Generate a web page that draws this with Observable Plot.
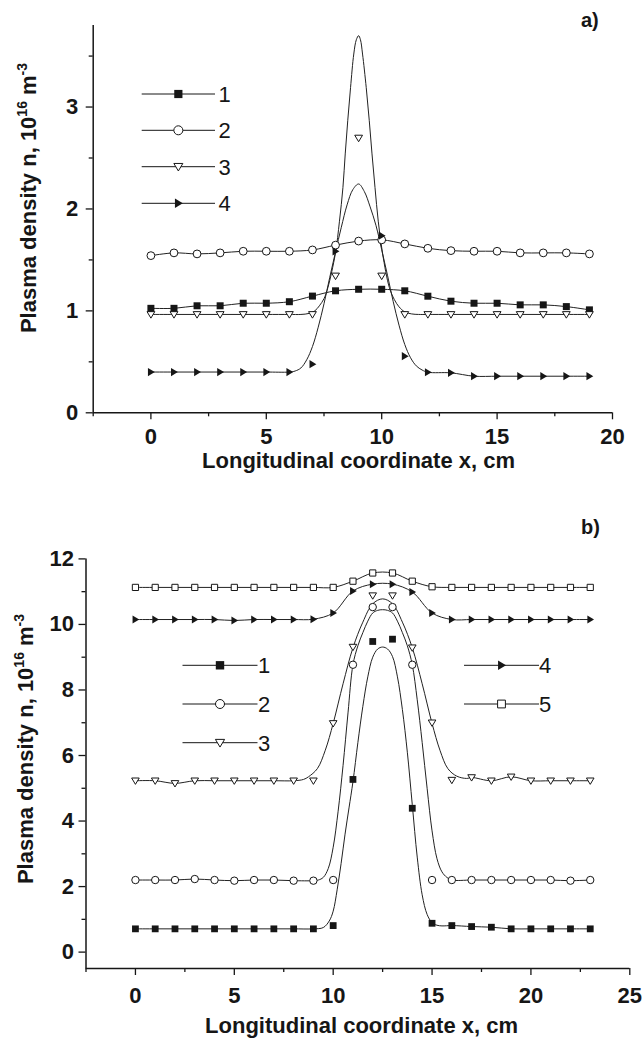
<!DOCTYPE html>
<html><head><meta charset="utf-8">
<script src="https://cdn.jsdelivr.net/npm/d3@7"></script>
<script src="https://cdn.jsdelivr.net/npm/@observablehq/plot@0.6"></script>
<style>
body{margin:0;background:#fff;}
#wrap{position:relative;width:644px;height:1038px;overflow:hidden;background:#fff;}
#pa{position:absolute;left:0;top:0;}
#pb{position:absolute;left:0;top:480px;}
</style></head><body><div id="wrap"><div id="pa"></div><div id="pb"></div></div>
<script>
// ---------- Panel a) data ----------
const xsA = [0,1,2,3,4,5,6,7,8,9,10,11,12,13,14,15,16,17,18,19];
const a1 = [1.025,1.025,1.05,1.05,1.075,1.075,1.09,1.145,1.197,1.212,1.212,1.197,1.144,1.095,1.075,1.075,1.059,1.059,1.042,1.01];
const a2 = [1.542,1.569,1.559,1.569,1.585,1.585,1.585,1.598,1.645,1.685,1.697,1.657,1.614,1.591,1.585,1.585,1.569,1.569,1.569,1.559];
const a3 = [0.965,0.965,0.965,0.965,0.965,0.965,0.965,0.965,1.343,2.696,1.343,0.965,0.965,0.965,0.965,0.965,0.965,0.965,0.965,0.965];
const a4 = [0.40,0.40,0.40,0.40,0.40,0.40,0.40,0.477,1.584,null,1.738,0.556,0.398,0.392,0.359,0.359,0.359,0.359,0.359,0.359];
// fitted curves read off panel a)
const tallX = [6.5,6.85,7.1,7.3,7.5,7.67,7.99,8.17,8.32,8.42,8.53,8.65,8.79,8.9,9.0,9.08,9.17,9.33,9.46,9.58,9.71,9.85,10.04,10.33,10.55,10.75,11.0,11.3,11.6];
const tallY = [0.965,0.975,1.0,1.05,1.12,1.23,1.56,1.88,2.21,2.54,2.87,3.19,3.52,3.66,3.70,3.66,3.52,3.19,2.87,2.54,2.21,1.88,1.56,1.23,1.11,1.04,0.99,0.97,0.965];
const shortX = [6.25,6.5,6.75,7.0,7.25,7.5,7.75,8.0,8.25,8.5,8.75,9.0,9.25,9.5,9.75,10.0,10.25,10.5,10.75,11.0,11.25,11.5,11.75];
const shortY = [0.41,0.44,0.52,0.65,0.84,1.07,1.33,1.58,1.82,2.04,2.19,2.245,2.17,2.02,1.84,1.60,1.35,1.09,0.86,0.67,0.54,0.46,0.42];
const xDomainA = [-2.5, 20];
const yDomainA = [0, 3.8];
const xMajorA = [0,5,10,15,20];
const xMinorA = [-2.5,2.5,7.5,12.5,17.5];
const yMajorA = [0,1,2,3];
const yMinorA = [0.5,1.5,2.5,3.5];
const legendA = ["1","2","3","4"];

// ---------- Panel b) data ----------
const xsB = [0,1,2,3,4,5,6,7,8,9,10,11,12,13,14,15,16,17,18,19,20,21,22,23];
const b1 = [0.71,0.71,0.71,0.71,0.71,0.71,0.71,0.71,0.71,0.71,0.81,5.27,9.48,9.55,4.39,0.88,0.81,0.78,0.76,0.71,0.71,0.71,0.71,0.71];
const b2 = [2.2,2.2,2.2,2.23,2.2,2.18,2.2,2.2,2.18,2.18,2.2,8.77,10.53,10.53,8.77,2.2,2.2,2.2,2.2,2.2,2.2,2.2,2.18,2.2];
const b3 = [5.23,5.23,5.15,5.23,5.23,5.23,5.23,5.23,5.23,5.23,6.98,9.31,10.88,10.88,9.29,7.0,5.25,5.33,5.23,5.35,5.23,5.23,5.23,5.23];
const b4 = [10.15,10.15,10.15,10.15,10.15,10.12,10.15,10.15,10.15,10.16,10.35,11.02,11.23,11.23,10.99,10.35,10.15,10.15,10.15,10.15,10.15,10.15,10.15,10.15];
const b5 = [11.13,11.13,11.13,11.13,11.13,11.13,11.13,11.13,11.13,11.13,11.13,11.32,11.57,11.57,11.32,11.15,11.13,11.13,11.13,11.13,11.13,11.13,11.13,11.13];
const c1X = [9.0,9.5,9.8,10.0,10.2,10.4,10.6,10.8,11.0,11.25,11.5,11.75,12.0,12.25,12.5,12.75,13.0,13.25,13.5,13.75,14.0,14.25,14.5,14.75,15.0,15.25,15.5];
const c1Y = [0.71,0.75,0.95,1.25,1.9,2.7,3.6,4.4,5.2,6.4,7.5,8.4,9.0,9.25,9.31,9.25,9.02,8.4,7.4,6.1,4.5,2.9,1.75,1.15,0.9,0.82,0.8];
const c2X = [9.25,9.5,9.75,10.0,10.25,10.5,10.75,11.0,11.25,11.5,11.75,12.0,12.25,12.5,12.75,13.0,13.25,13.5,13.75,14.0,14.25,14.5,14.75,15.0,15.25,15.5,15.75];
const c2Y = [2.2,2.28,2.55,3.2,4.3,5.7,7.3,8.77,9.35,9.75,10.1,10.35,10.43,10.45,10.43,10.35,10.1,9.75,9.35,8.77,7.7,6.4,5.0,3.7,2.85,2.45,2.28];
const c3X = [8.0,8.5,8.75,9.2,9.6,10.0,10.5,11.0,11.5,12.0,12.5,13.0,13.5,14.0,14.5,15.0,15.4,15.8,16.25,16.75];
const c3Y = [5.23,5.27,5.35,5.6,6.16,6.98,8.19,9.29,10.07,10.63,10.78,10.63,10.07,9.29,8.19,6.98,6.16,5.6,5.37,5.3];
const xDomainB = [-2.5, 25];
const yDomainB = [-0.5, 12];
const xMajorB = [0,5,10,15,20,25];
const xMinorB = [-2.5,2.5,7.5,12.5,17.5,22.5];
const yMajorB = [0,2,4,6,8,10,12];
const yMinorB = [1,3,5,7,9,11];
const legendB = ["1","2","3","4","5"];

const xTitle = "Longitudinal coordinate x, cm";

// ---------- symbols ----------
const rad = s => Math.sqrt(s / Math.PI);
const symSquare = {draw(c, s){const r=rad(s); c.moveTo(-r,-r); c.lineTo(r,-r); c.lineTo(r,r); c.lineTo(-r,r); c.closePath();}};
const symCircle = {draw(c, s){const r=rad(s); c.moveTo(r,0); c.arc(0,0,r,0,2*Math.PI); c.closePath();}};
const symTriDown = {draw(c, s){const r=rad(s); c.moveTo(-r,-0.72*r); c.lineTo(r,-0.72*r); c.lineTo(0,0.95*r); c.closePath();}};
const symTriRight = {draw(c, s){const r=rad(s); c.moveTo(-0.72*r,-r); c.lineTo(0.95*r,0); c.lineTo(-0.72*r,r); c.closePath();}};
const INK = "#161616";
const styleFilled = {fill: INK, stroke: "none"};
const styleOpen = {fill: "white", stroke: INK, strokeWidth: 1};

const rows = (xs, vals, name) => xs.map((x,i) => ({s:name, x, y: vals[i]})).filter(d => d.y != null);
const curveRows = (cx, cy, name) => cx.map((x,i) => ({s:name, x, y: cy[i]}));
const splice = (mr, cx, cy, name) => [
  ...mr.filter(d => d.x < cx[0]),
  ...curveRows(cx, cy, name),
  ...mr.filter(d => d.x > cx[cx.length-1])
];

const FONT = "'Liberation Sans', Arial, Helvetica, sans-serif";

function axes(xMaj, xMin, yMaj, yMin, xDom, yDom, xPad, yPad) {
  return [
    Plot.axisX({ticks: xMaj, tickSize: 7, tickPadding: xPad, strokeWidth: 1.3, label: null, tickFormat: d => String(d)}),
    Plot.axisX({ticks: xMin, tickSize: 4, strokeWidth: 1.3, label: null, tickFormat: () => ""}),
    Plot.axisY({ticks: yMaj, tickSize: 7, tickPadding: yPad, strokeWidth: 1.3, label: null, tickFormat: d => String(d)}),
    Plot.axisY({ticks: yMin, tickSize: 4, strokeWidth: 1.3, label: null, tickFormat: () => ""}),
    Plot.ruleX([xDom[0]], {stroke: INK, strokeWidth: 1.5}),
    Plot.ruleY([yDom[0]], {stroke: INK, strokeWidth: 1.5})
  ];
}

function yTitle(svg, cx, cy) {
  const t = d3.select(svg).append("text")
    .attr("transform", `translate(${cx},${cy}) rotate(-90)`)
    .attr("text-anchor", "middle").attr("fill", INK)
    .style("font-family", FONT).style("font-weight", "bold").style("font-size", "22px");
  t.append("tspan").text("Plasma density n, 10");
  t.append("tspan").attr("dy", -9).style("font-size", "14px").text("16");
  t.append("tspan").attr("dy", 9).text(" m");
  t.append("tspan").attr("dy", -9).style("font-size", "14px").text("-3");
}
function plainText(svg, x, y, str, anchor, size, weight) {
  d3.select(svg).append("text").attr("x", x).attr("y", y).attr("text-anchor", anchor)
    .attr("fill", INK).style("font-family", FONT).style("font-weight", weight)
    .style("font-size", size + "px").text(str);
}
function legend(svg, items, pos) {
  const g = d3.select(svg).append("g");
  items.forEach((it, i) => {
    const p = pos[i];
    g.append("line").attr("x1", p.x0).attr("x2", p.x1).attr("y1", p.y).attr("y2", p.y)
      .attr("stroke", INK).attr("stroke-width", 1);
    g.append("path").attr("d", d3.symbol(it.sym, Math.PI * it.r * it.r)())
      .attr("transform", `translate(${(p.x0 + p.x1) / 2},${p.y})`)
      .attr("fill", it.st.fill).attr("stroke", it.st.stroke).attr("stroke-width", 1);
    g.append("text").attr("x", p.tx).attr("y", p.y).attr("dy", "0.36em").attr("fill", INK)
      .style("font-family", FONT).style("font-size", "22px").style("font-weight", "normal").text(it.label);
  });
}

// ---------- Panel a) ----------
const serA = [
  {name: legendA[0], vals: a1, sym: symSquare, st: styleFilled, r: 3.5},
  {name: legendA[1], vals: a2, sym: symCircle, st: styleOpen, r: 3.9},
  {name: legendA[2], vals: a3, sym: symTriDown, st: styleOpen, r: 3.9},
  {name: legendA[3], vals: a4, sym: symTriRight, st: styleFilled, r: 4.1}
];
const mA = serA.map(s => rows(xsA, s.vals, s.name));
const linesA = [
  ...mA[0], ...mA[1],
  ...splice(mA[2], tallX, tallY, legendA[2]),
  ...splice(mA[3], shortX, shortY, legendA[3])
];
const svgA = Plot.plot({
  width: 644, height: 480,
  marginLeft: 92.7, marginRight: 32, marginTop: 25, marginBottom: 67.7,
  x: {domain: xDomainA}, y: {domain: yDomainA},
  style: {fontFamily: FONT, fontSize: "22px", fontWeight: "bold", color: INK, background: "white", overflow: "visible"},
  marks: [
    ...axes(xMajorA, xMinorA, yMajorA, yMinorA, xDomainA, yDomainA, 9, 8),
    Plot.line(linesA, {x: "x", y: "y", z: "s", curve: "catmull-rom", stroke: "#222", strokeWidth: 1}),
    ...serA.map((s, i) => Plot.dot(mA[i], {x: "x", y: "y", symbol: s.sym, r: s.r, ...s.st}))
  ]
});
document.getElementById("pa").appendChild(svgA);
yTitle(svgA, 36, 198);
plainText(svgA, 515, 468, xTitle, "end", 22, "bold");
plainText(svgA, 581, 27, "a)", "start", 20, "bold");
legend(svgA, serA.map(s => ({label: s.name, sym: s.sym, st: s.st, r: s.r + 0.6})), [
  {x0: 141.7, x1: 215, y: 94, tx: 224.5},
  {x0: 141.7, x1: 215, y: 130.3, tx: 224.5},
  {x0: 141.7, x1: 215, y: 166.7, tx: 224.5},
  {x0: 141.7, x1: 215, y: 203.3, tx: 224.5}
]);

// ---------- Panel b) ----------
const serB = [
  {name: legendB[0], vals: b1, sym: symSquare, st: styleFilled, r: 3.4},
  {name: legendB[1], vals: b2, sym: symCircle, st: styleOpen, r: 3.7},
  {name: legendB[2], vals: b3, sym: symTriDown, st: styleOpen, r: 3.8},
  {name: legendB[3], vals: b4, sym: symTriRight, st: styleFilled, r: 4.0},
  {name: legendB[4], vals: b5, sym: symSquare, st: styleOpen, r: 3.1}
];
const mB = serB.map(s => rows(xsB, s.vals, s.name));
const linesB = [
  ...splice(mB[0], c1X, c1Y, legendB[0]),
  ...splice(mB[1], c2X, c2Y, legendB[1]),
  ...splice(mB[2], c3X, c3Y, legendB[2]),
  ...mB[3], ...mB[4]
];
const svgB = Plot.plot({
  width: 644, height: 558,
  marginLeft: 85.5, marginRight: 14.7, marginTop: 78.4, marginBottom: 70,
  x: {domain: xDomainB}, y: {domain: yDomainB},
  style: {fontFamily: FONT, fontSize: "22px", fontWeight: "bold", color: INK, background: "white", overflow: "visible"},
  marks: [
    ...axes(xMajorB, xMinorB, yMajorB, yMinorB, xDomainB, yDomainB, 11.5, 5),
    Plot.line(linesB, {x: "x", y: "y", z: "s", curve: "catmull-rom", stroke: "#222", strokeWidth: 1}),
    ...serB.map((s, i) => Plot.dot(mB[i], {x: "x", y: "y", symbol: s.sym, r: s.r, ...s.st}))
  ]
});
document.getElementById("pb").appendChild(svgB);
yTitle(svgB, 33, 269);
plainText(svgB, 518, 553, xTitle, "end", 22, "bold");
plainText(svgB, 581, 54, "b)", "start", 20, "bold");
legend(svgB, serB.map(s => ({label: s.name, sym: s.sym, st: s.st, r: s.r + 0.8})), [
  {x0: 182.5, x1: 257.5, y: 185.3, tx: 264},
  {x0: 182.5, x1: 257.5, y: 224, tx: 264},
  {x0: 182.5, x1: 257.5, y: 262.7, tx: 264},
  {x0: 464, x1: 539, y: 185.3, tx: 545},
  {x0: 464, x1: 539, y: 224, tx: 545}
]);
</script></body></html>
